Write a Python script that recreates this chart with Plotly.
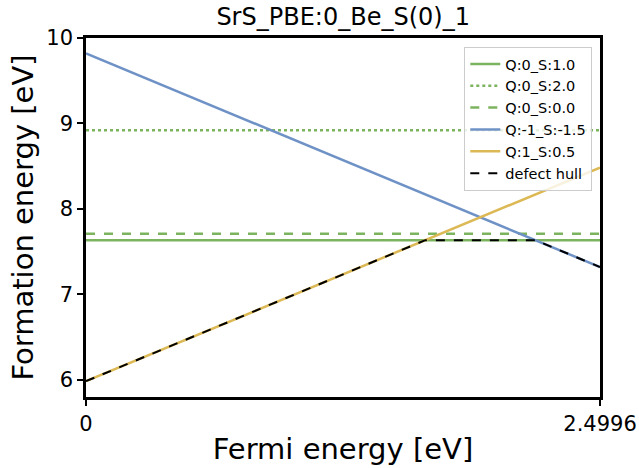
import numpy as np
import plotly.graph_objects as go

# Data
gap = 2.4996
names = ["Q:0_S:1.0", "Q:0_S:2.0", "Q:0_S:0.0", "Q:-1_S:-1.5", "Q:1_S:0.5"]
charges = [0, 0, 0, -1, 1]
e_at_vbm = [7.635, 8.92, 7.71, 9.82, 5.985]
colors = ["#7cb35f", "#7cb35f", "#7cb35f", "#6f92c6", "#dcb955"]
dashes = ["solid", "dot", "dash", "solid", "solid"]
x_ticks = [0, gap]
x_tick_labels = ["0", "2.4996"]

fig = go.Figure()
xs = np.array([0.0, gap])
for n, q, e, c, d in zip(names, charges, e_at_vbm, colors, dashes):
    fig.add_trace(go.Scatter(x=xs, y=e + q * xs, mode="lines", name=n,
                             line=dict(color=c, width=2.5, dash=d)))

# defect hull: lower envelope
bps = [0.0, gap]
for i in range(len(charges)):
    for j in range(i + 1, len(charges)):
        if charges[i] != charges[j]:
            xb = (e_at_vbm[j] - e_at_vbm[i]) / (charges[i] - charges[j])
            if 0 < xb < gap:
                bps.append(xb)
bps = np.array(sorted(bps))
hull = np.min([e + q * bps for q, e in zip(charges, e_at_vbm)], axis=0)
fig.add_trace(go.Scatter(x=bps, y=hull, mode="lines", name="defect hull",
                         line=dict(color="black", width=2, dash="dash")))

axis_common = dict(showline=True, linecolor="black", linewidth=2.5, mirror=True,
                   ticks="outside", ticklen=6, tickwidth=1.5, tickcolor="black",
                   showgrid=False, zeroline=False, automargin=False,
                   tickfont=dict(family="DejaVu Sans", size=21, color="black"))
fig.update_layout(
    width=639, height=468,
    margin=dict(l=86, r=39, t=38, b=71, autoexpand=False),
    plot_bgcolor="white", paper_bgcolor="white",
    title=dict(text="SrS_PBE:0_Be_S(0)_1", x=0.537, xanchor="center", y=0.965, yanchor="middle",
               font=dict(family="DejaVu Sans", size=24, color="black")),
    xaxis=dict(range=[0, gap], tickvals=x_ticks, ticktext=x_tick_labels,
               title=dict(text="Fermi energy [eV]", font=dict(family="DejaVu Sans", size=29, color="black"), standoff=4),
               **axis_common),
    yaxis=dict(range=[5.8, 10.0], tickvals=[6, 7, 8, 9, 10],
               title=dict(text="Formation energy [eV]", font=dict(family="DejaVu Sans", size=29, color="black"), standoff=5),
               **axis_common),
    legend=dict(x=0.985, y=0.975, xanchor="right", yanchor="top",
                bgcolor="rgba(255,255,255,0.8)", bordercolor="#cccccc", borderwidth=1,
                font=dict(family="DejaVu Sans", size=14.5, color="black"),
                tracegroupgap=0, itemwidth=30),
    showlegend=True,
)
fig.write_html("out.html", config={"displayModeBar": False},
               post_script="document.body.style.margin='0';")
